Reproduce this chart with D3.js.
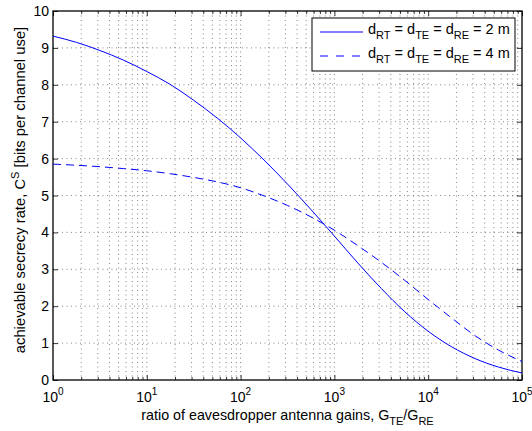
<!DOCTYPE html>
<html>
<head>
<meta charset="utf-8">
<script src="https://cdn.jsdelivr.net/npm/d3@7"></script>
<style>
  body { margin: 0; background: #fff; }
  svg { display: block; font-family: "Liberation Sans", Arial, Helvetica, sans-serif; }
</style>
</head>
<body>
<script>

// exponents of the gain ratio G_TE/G_RE (x = 10^e)
var exponents = [0, 0.25, 0.5, 0.75, 1, 1.25, 1.5, 1.75, 2, 2.25, 2.5, 2.75, 3, 3.25, 3.5, 3.75, 4, 4.25, 4.5, 4.75, 5];

// secrecy rate, d = 2 m
var rate2m = [9.32, 9.15, 8.93, 8.67, 8.36, 8.01, 7.58, 7.10, 6.56, 5.96, 5.31, 4.62, 3.90, 3.17, 2.48, 1.85, 1.32, 0.90, 0.58, 0.35, 0.19];

// secrecy rate, d = 4 m
var rate4m = [5.85, 5.82, 5.78, 5.73, 5.67, 5.59, 5.49, 5.37, 5.21, 4.99, 4.73, 4.42, 4.06, 3.64, 3.19, 2.70, 2.18, 1.68, 1.20, 0.81, 0.50];

var xTickExp = [0, 1, 2, 3, 4, 5];
var yTicks = [0, 1, 2, 3, 4, 5, 6, 7, 8, 9, 10];

var svgWidth = 532;
var svgHeight = 431;

var margin = { top: 11, right: 10, bottom: 51, left: 53 };
var chartWidth = svgWidth - margin.left - margin.right;
var chartHeight = svgHeight - margin.top - margin.bottom;

var svg = d3.select('body')
  .append('svg')
  .attr('width', svgWidth)
  .attr('height', svgHeight);

var g = svg.append('g')
  .attr('transform', `translate(${margin.left}, ${margin.top})`);

var xScale = d3.scaleLog()
  .domain([1, 1e5])
  .range([0, chartWidth]);

var yScale = d3.scaleLinear()
  .domain([0, 10])
  .range([chartHeight, 0]);

// major + minor positions on the log axis
var majorX = xTickExp.map(e => Math.pow(10, e));
var minorX = [];
majorX.slice(0, -1).forEach(function(m) {
  for (var k = 2; k <= 9; k++) minorX.push(m * k);
});

// grid (dotted, matlab style)
g.selectAll('.vgrid')
  .data(majorX.slice(1, -1).concat(minorX))
  .enter()
  .append('line')
  .attr('x1', d => xScale(d))
  .attr('x2', d => xScale(d))
  .attr('y1', 0)
  .attr('y2', chartHeight)
  .attr('stroke', '#666')
  .attr('stroke-width', 0.8)
  .attr('stroke-dasharray', '1,3.5');

g.selectAll('.hgrid')
  .data(yTicks.slice(1, -1))
  .enter()
  .append('line')
  .attr('x1', 0)
  .attr('x2', chartWidth)
  .attr('y1', d => yScale(d))
  .attr('y2', d => yScale(d))
  .attr('stroke', '#666')
  .attr('stroke-width', 0.8)
  .attr('stroke-dasharray', '1,3.5');

// ticks inside the box, on all four sides
var axisBottom = d3.axisBottom(xScale).tickValues(majorX).tickSizeInner(-5).tickSizeOuter(0).tickFormat('');
var axisTop = d3.axisTop(xScale).tickValues(majorX).tickSizeInner(-5).tickSizeOuter(0).tickFormat('');
var axisBottomMinor = d3.axisBottom(xScale).tickValues(minorX).tickSizeInner(-3).tickSizeOuter(0).tickFormat('');
var axisTopMinor = d3.axisTop(xScale).tickValues(minorX).tickSizeInner(-3).tickSizeOuter(0).tickFormat('');
var axisLeft = d3.axisLeft(yScale).tickValues(yTicks).tickSizeInner(-5).tickSizeOuter(0).tickFormat('');
var axisRight = d3.axisRight(yScale).tickValues(yTicks).tickSizeInner(-5).tickSizeOuter(0).tickFormat('');

g.append('g').attr('transform', `translate(0, ${chartHeight})`).call(axisBottom);
g.append('g').attr('transform', `translate(0, ${chartHeight})`).call(axisBottomMinor);
g.append('g').call(axisTop);
g.append('g').call(axisTopMinor);
g.append('g').call(axisLeft);
g.append('g').attr('transform', `translate(${chartWidth}, 0)`).call(axisRight);
g.selectAll('.domain').remove();
g.selectAll('.tick line').attr('stroke', '#000').attr('stroke-width', 0.8);

// box
g.append('rect')
  .attr('width', chartWidth)
  .attr('height', chartHeight)
  .attr('fill', 'none')
  .attr('stroke', '#000')
  .attr('stroke-width', 1.3);

// tick labels
var xLab = g.selectAll('.xlab')
  .data(xTickExp)
  .enter()
  .append('text')
  .attr('x', d => xScale(Math.pow(10, d)))
  .attr('y', chartHeight + 22)
  .attr('text-anchor', 'middle')
  .attr('font-size', 14);
xLab.append('tspan').text('10');
xLab.append('tspan').attr('dy', -7).attr('font-size', 10).text(d => d);

g.selectAll('.ylab')
  .data(yTicks)
  .enter()
  .append('text')
  .attr('x', -4)
  .attr('y', d => yScale(d) + 5)
  .attr('text-anchor', 'end')
  .attr('font-size', 14)
  .text(d => d);

// curves
var points2 = exponents.map((e, i) => [Math.pow(10, e), rate2m[i]]);
var points4 = exponents.map((e, i) => [Math.pow(10, e), rate4m[i]]);

var line = d3.line()
  .x(d => xScale(d[0]))
  .y(d => yScale(d[1]))
  .curve(d3.curveMonotoneX);

g.append('path')
  .attr('d', line(points2))
  .attr('fill', 'none')
  .attr('stroke', '#0000ff')
  .attr('stroke-width', 1);

g.append('path')
  .attr('d', line(points4))
  .attr('fill', 'none')
  .attr('stroke', '#0000ff')
  .attr('stroke-width', 1)
  .attr('stroke-dasharray', '8,5');

// legend
var legend = svg.append('g').attr('transform', 'translate(312, 18)');
legend.append('rect')
  .attr('width', 203)
  .attr('height', 53)
  .attr('fill', '#fff')
  .attr('stroke', '#000')
  .attr('stroke-width', 1);

var legendItems = [
  { label: '2 m', dash: null },
  { label: '4 m', dash: '8,8' }
];

legendItems.forEach(function(item, i) {
  var ly = 14 + i * 24;
  legend.append('line')
    .attr('x1', 8).attr('x2', 51)
    .attr('y1', ly).attr('y2', ly)
    .attr('stroke', '#0000ff')
    .attr('stroke-width', 1)
    .attr('stroke-dasharray', item.dash);

  var t = legend.append('text')
    .attr('x', 56)
    .attr('y', ly + 2)
    .attr('font-size', 14.5);
  t.append('tspan').text('d');
  t.append('tspan').attr('dy', 5).attr('font-size', 11).text('RT');
  t.append('tspan').attr('dy', -5).text(' = d');
  t.append('tspan').attr('dy', 5).attr('font-size', 11).text('TE');
  t.append('tspan').attr('dy', -5).text(' = d');
  t.append('tspan').attr('dy', 5).attr('font-size', 11).text('RE');
  t.append('tspan').attr('dy', -5).text(' = ' + item.label);
});

// axis titles
var xTitle = svg.append('text')
  .attr('x', margin.left + chartWidth / 2)
  .attr('y', 420)
  .attr('text-anchor', 'middle')
  .attr('font-size', 14.3);
xTitle.append('tspan').text('ratio of eavesdropper antenna gains, G');
xTitle.append('tspan').attr('dy', 5).attr('font-size', 11).text('TE');
xTitle.append('tspan').attr('dy', -5).text('/G');
xTitle.append('tspan').attr('dy', 5).attr('font-size', 11).text('RE');

var yTitle = svg.append('text')
  .attr('transform', 'translate(25, 190) rotate(-90)')
  .attr('text-anchor', 'middle')
  .attr('font-size', 14.8);
yTitle.append('tspan').text('achievable secrecy rate, C');
yTitle.append('tspan').attr('dy', -6).attr('font-size', 11).text('S');
yTitle.append('tspan').attr('dy', 6).text(' [bits per channel use]');

</script>
</body>
</html>
